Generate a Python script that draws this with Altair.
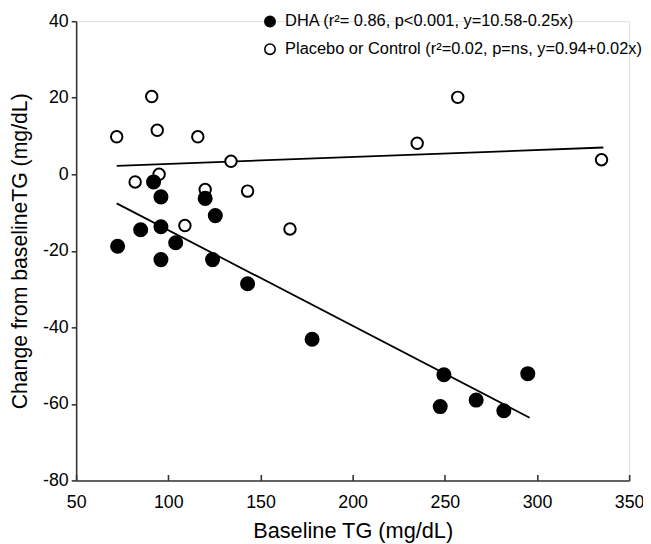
import altair as alt
import pandas as pd

dha_label = "DHA (r²= 0.86, p<0.001, y=10.58-0.25x)"
placebo_label = "Placebo or Control (r²=0.02, p=ns, y=0.94+0.02x)"

# Open circles: Placebo or Control
placebo_x = [72, 91, 94, 116, 134, 82, 95, 120, 143, 109, 166, 235, 257, 335]
placebo_y = [9.8, 20.3, 11.5, 9.8, 3.4, -2.0, 0.0, -4.0, -4.4, -13.4, -14.3, 8.1, 20.1, 3.8]

# Filled circles: DHA
dha_x = [92, 96, 120, 125.5, 85, 96, 104, 72.5, 96, 124, 143, 178, 249.5, 295, 247.5, 267, 282]
dha_y = [-2.0, -5.9, -6.3, -10.8, -14.5, -13.7, -17.9, -18.8, -22.3, -22.3, -28.6, -43.1,
         -52.4, -52.1, -60.7, -59.0, -61.8]

# Regression line end points
dha_line_x = [72, 296]
dha_line_y = [-7.6, -63.6]
placebo_line_x = [72, 336]
placebo_line_y = [2.2, 7.0]

x_ticks = [50, 100, 150, 200, 250, 300, 350]
y_ticks = [-80, -60, -40, -20, 0, 20, 40]

FONT = "Liberation Sans"
AXIS_COLOR = "#333333"

points = pd.DataFrame({
    "tg": placebo_x + dha_x,
    "change": placebo_y + dha_y,
    "group": [placebo_label] * len(placebo_x) + [dha_label] * len(dha_x),
    "kind": ["open"] * len(placebo_x) + ["filled"] * len(dha_x),
})
lines = pd.DataFrame({
    "tg": dha_line_x + placebo_line_x,
    "change": dha_line_y + placebo_line_y,
    "line": ["DHA"] * len(dha_line_x) + ["Placebo"] * len(placebo_line_x),
})

x_scale = alt.Scale(domain=[50, 350], nice=False, zero=False)
y_scale = alt.Scale(domain=[-80, 40], nice=False, zero=False)

x_axis = alt.Axis(
    orient="bottom", values=x_ticks, ticks=False, grid=False, title="Baseline TG (mg/dL)",
    labelFontSize=18, titleFontSize=22, labelPadding=13, titlePadding=10, labelFlush=False,
    domainColor=AXIS_COLOR, domainWidth=1.6, labelColor="black", titleColor="black",
    titleFontWeight="normal", labelFont=FONT, titleFont=FONT,
)
x_tick_axis = alt.Axis(
    orient="top", offset=-465, values=x_ticks, labels=False, domain=False,
    ticks=True, tickSize=6, tickColor=AXIS_COLOR, tickWidth=1.6, grid=False, title=None,
)
y_axis = alt.Axis(
    values=y_ticks, tickSize=5, tickColor=AXIS_COLOR, tickWidth=1.6, grid=False,
    title="Change from baselineTG (mg/dL)", labelFontSize=18, titleFontSize=21.5,
    labelPadding=3, titleX=-45, labelFlush=False, domainColor=AXIS_COLOR, domainWidth=1.6,
    labelColor="black", titleColor="black", titleFontWeight="normal",
    labelFont=FONT, titleFont=FONT, labelExpr="'' + datum.value",
)

line_layer = alt.Chart(lines).mark_line(color="black", strokeWidth=1.8).encode(
    x=alt.X("tg:Q", scale=x_scale, axis=x_tick_axis),
    y=alt.Y("change:Q", scale=y_scale, axis=y_axis),
    detail="line:N",
)

point_layer = alt.Chart(points).mark_circle(stroke="black", strokeWidth=2, opacity=1).encode(
    x=alt.X("tg:Q", scale=x_scale, axis=x_axis),
    y=alt.Y("change:Q", scale=y_scale, axis=y_axis),
    fill=alt.Fill(
        "group:N",
        scale=alt.Scale(domain=[dha_label, placebo_label], range=["black", "white"]),
        legend=alt.Legend(
            orient="none", legendX=188, legendY=-8, title=None,
            labelFontSize=16.6, labelFont=FONT, labelColor="black",
            symbolType="circle", symbolSize=110, symbolStrokeColor="black",
            symbolStrokeWidth=1.6, symbolOpacity=1, labelOffset=7, rowPadding=10, padding=0,
            labelLimit=600,
        ),
    ),
    size=alt.Size(
        "kind:N",
        scale=alt.Scale(domain=["filled", "open"], range=[175, 135]),
        legend=None,
    ),
)

chart = (
    alt.layer(line_layer, point_layer)
    .resolve_axis(x="independent")
    .properties(
        width=560, height=465,
        autosize=alt.AutoSizeParams(type="none"),
        padding={"left": 69, "top": 10, "right": 14, "bottom": 61},
    )
    .configure_view(strokeWidth=0)
    .configure(font=FONT)
)

chart.save("out.html", embed_options={"renderer": "svg", "actions": False})
